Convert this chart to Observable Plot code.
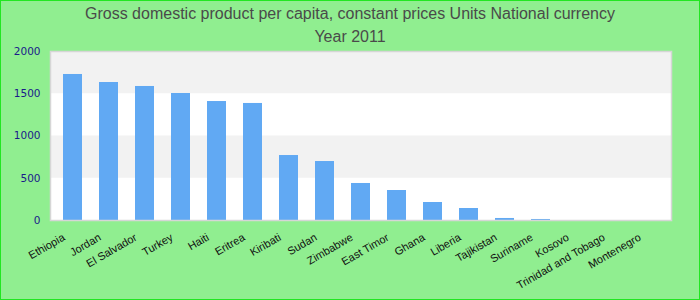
<!DOCTYPE html>
<html>
<head>
<meta charset="utf-8">
<script src="https://cdn.jsdelivr.net/npm/d3@7"></script>
<script src="https://cdn.jsdelivr.net/npm/@observablehq/plot@0.6"></script>
<style>
  html, body { margin: 0; padding: 0; }
  #wrap { position: relative; width: 700px; height: 300px; background: #90ee90; box-sizing: border-box; overflow: hidden; }
  #border { position: absolute; left: 0; top: 0; width: 700px; height: 300px; box-sizing: border-box; border: 1.5px solid #22e622; pointer-events: none; }
  #title { position: absolute; left: 0; top: 2px; width: 700px; text-align: center; font-family: "Liberation Sans", Arial, sans-serif; font-size: 16px; line-height: 23px; color: #4a4a4a; }
  #chart { position: absolute; left: 0; top: 46px; }
</style>
</head>
<body>
<div id="wrap">
  <div id="title">Gross domestic product per capita, constant prices Units National currency<br>Year 2011</div>
  <div id="chart"></div>
  <div id="border"></div>
</div>
<script>
const countries = ["Ethiopia", "Jordan", "El Salvador", "Turkey", "Haiti", "Eritrea", "Kiribati", "Sudan", "Zimbabwe", "East Timor", "Ghana", "Liberia", "Tajikistan", "Suriname", "Kosovo", "Trinidad and Tobago", "Montenegro"];
const values = [1728, 1633, 1586, 1503, 1408, 1385, 769, 698, 438, 355, 213, 142, 24, 12, 0, 0, 0];
const yTicks = [0, 500, 1000, 1500, 2000];
const bandLow = [1500, 500];
const bandHigh = [2000, 1000];

const data = countries.map((c, i) => ({country: c, value: values[i]}));
const bands = bandLow.map((lo, i) => ({y1: lo, y2: bandHigh[i]}));

const chart = Plot.plot({
  width: 700,
  height: 254,
  marginTop: 5,
  marginBottom: 80,
  marginLeft: 50,
  marginRight: 29,
  style: {background: "transparent", overflow: "visible"},
  x: {domain: countries, paddingInner: 0.48, paddingOuter: 0.24, label: null},
  y: {domain: [0, 2000], label: null},
  marks: [
    Plot.frame({fill: "white", stroke: null}),
    Plot.rect(bands, {y1: "y1", y2: "y2", fill: "#f2f2f2"}),
    Plot.barY(data, {x: "country", y: "value", fill: "#61a9f3"}),
    Plot.frame({stroke: "#d6d6d6", strokeWidth: 1.5}),
    Plot.axisY({ticks: yTicks, tickFormat: d => String(d), tickSize: 0, tickPadding: 10, fill: "#1a1a8a", fontSize: 10.5, fontFamily: "DejaVu Sans", label: null}),
    Plot.axisX({tickSize: 0, tickPadding: 16, tickRotate: -30, fill: "#111", fontSize: 11, fontFamily: "Liberation Sans", label: null, dx: -9})
  ]
});
document.getElementById("chart").appendChild(chart);
</script>
</body>
</html>
